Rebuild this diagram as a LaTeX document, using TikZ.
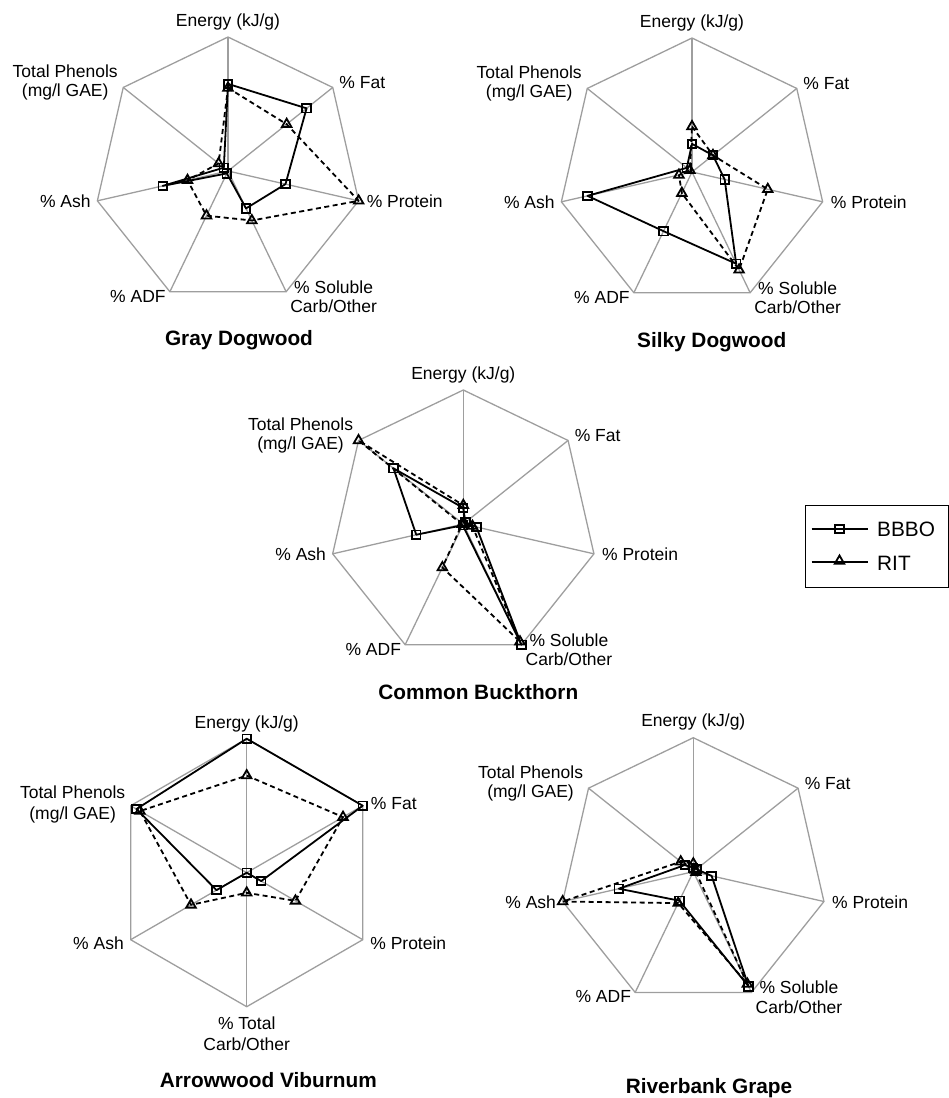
\documentclass[tikz,border=0pt]{standalone}
\usepackage{fontspec}
\setmainfont{Liberation Sans}
\usetikzlibrary{shapes.geometric}
\definecolor{gridc}{RGB}{158,158,158}
\def\RR{134}
\newcommand\heptgrid[3]{%
  \begin{scope}[shift={(#2,#3)}]
    \coordinate (#1C) at (0,0);
    \foreach \k in {0,...,6}{\coordinate (#1V\k) at ({90-\k*360/7}:\RR);}
  \end{scope}
  \draw[gridline] (#1V0)--(#1V1)--(#1V2)--(#1V3)--(#1V4)--(#1V5)--(#1V6)--cycle;
  \foreach \k in {0,...,6}{\draw[gridline] (#1C) -- (#1V\k);}
  \node[lab,anchor=base] (#1LE) at ([shift={(0,11)}]#1V0) {Energy (kJ/g)};
  \node[lab,anchor=base west] (#1LF) at ([shift={(6.5,-1)}]#1V1) {\% Fat};
  \node[lab,anchor=base west] (#1LP) at ([shift={(8,-7)}]#1V2) {\% Protein};
  \node[lab,anchor=base] (#1LSa) at ([shift={(47.5,-1.5)}]#1V3) {\% Soluble};
  \node[lab,anchor=base] (#1LSb) at ([shift={(47.5,-21)}]#1V3) {Carb/Other};
  \node[lab,anchor=base east] (#1LD) at ([shift={(-4,-10.5)}]#1V4) {\% ADF};
  \node[lab,anchor=base east] (#1LA) at ([shift={(-6.5,-6.5)}]#1V5) {\% Ash};
  \node[lab,anchor=base] (#1LTa) at ([shift={(-58,9.5)}]#1V6) {Total Phenols};
  \node[lab,anchor=base] (#1LTb) at ([shift={(-58,-9.5)}]#1V6) {(mg/l GAE)};
}
\newcommand\hexgrid[3]{%
  \begin{scope}[shift={(#2,#3)}]
    \coordinate (#1C) at (0,0);
    \foreach \k in {0,...,5}{\coordinate (#1V\k) at ({90-\k*60}:\RR);}
  \end{scope}
  \draw[gridline] (#1V0)--(#1V1)--(#1V2)--(#1V3)--(#1V4)--(#1V5)--cycle;
  \foreach \k in {0,...,5}{\draw[gridline] (#1C) -- (#1V\k);}
  \node[lab,anchor=base] (#1LE) at ([shift={(0,10)}]#1V0) {Energy (kJ/g)};
  \node[lab,anchor=base west] (#1LF) at ([shift={(8,-4)}]#1V1) {\% Fat};
  \node[lab,anchor=base west] (#1LP) at ([shift={(7.4,-10)}]#1V2) {\% Protein};
  \node[lab,anchor=base] (#1LCa) at ([shift={(0,-22.6)}]#1V3) {\% Total};
  \node[lab,anchor=base] (#1LCb) at ([shift={(0,-43.6)}]#1V3) {Carb/Other};
  \node[lab,anchor=base east] (#1LA) at ([shift={(-6.7,-10)}]#1V4) {\% Ash};
  \node[lab,anchor=base] (#1LTa) at ([shift={(-58,7)}]#1V5) {Total Phenols};
  \node[lab,anchor=base] (#1LTb) at ([shift={(-58,-14)}]#1V5) {(mg/l GAE)};
}
% #1 prefix, #2 cx, #3 cy, #4 axes, #5 marker style, #6 line style, #7 values
\newcommand\series[7]{%
  \begin{scope}[shift={(#2,#3)}]
    \foreach \v [count=\k from 0] in {#7}{\node[#5] (#1\k) at ({90-\k*360/#4}:{\v*\RR}) {};}
  \end{scope}
  \ifnum#4=7
    \draw[#6] (#10.center)--(#11.center)--(#12.center)--(#13.center)--(#14.center)--(#15.center)--(#16.center)--cycle;
  \else
    \draw[#6] (#10.center)--(#11.center)--(#12.center)--(#13.center)--(#14.center)--(#15.center)--cycle;
  \fi
}
\begin{document}
\begin{tikzpicture}[x=1pt,y=1pt,
  gridline/.style={draw=gridc, line width=1.3pt},
  lab/.style={font=\fontsize{17.5}{21}\selectfont, inner sep=0pt, text=black},
  ttl/.style={font=\fontsize{20.8}{24}\selectfont\bfseries, inner sep=0pt, anchor=base},
  legtext/.style={font=\fontsize{20.8}{24}\selectfont, inner sep=0pt, anchor=base west},
  sqm/.style={draw=black, rectangle, line width=1.8pt, minimum size=8.5pt, inner sep=0pt},
  trm/.style={draw=black, regular polygon, regular polygon sides=3, line width=1.8pt, minimum size=11pt, inner sep=0pt},
  bline/.style={draw=black, line width=1.8pt, line join=round},
  rline/.style={draw=black, line width=1.8pt, dash pattern=on 5pt off 3.5pt, line join=round},
  legline/.style={draw=black, line width=1.7pt}
]
\useasboundingbox (0,0) rectangle (949,-1098);

% Gray Dogwood
\heptgrid{gd}{228}{-171}
\series{gdB}{228}{-171}{7}{sqm}{bline}{0.65,0.75,0.44,0.31,0.02,0.50,0.04}
\series{gdR}{228}{-171}{7}{trm}{rline}{0.62,0.56,1.0,0.41,0.37,0.31,0.09}
\node[ttl] (gdT) at (239,-345.5) {Gray Dogwood};

% Silky Dogwood
\heptgrid{sd}{692}{-172}
\series{sdB}{692}{-172}{7}{sqm}{bline}{0.21,0.20,0.25,0.76,0.49,0.80,0.05}
\series{sdR}{692}{-172}{7}{trm}{rline}{0.34,0.20,0.58,0.81,0.175,0.10,0.02}
\node[ttl] (sdT) at (711.7,-347) {Silky Dogwood};

% Common Buckthorn
\heptgrid{cb}{463.3}{-524}
\series{cbB}{463.3}{-524}{7}{sqm}{bline}{0.12,0.02,0.10,1.0,0.01,0.36,0.667}
\series{cbR}{463.3}{-524}{7}{trm}{rline}{0.14,0.01,0.07,0.975,0.36,0.01,1.0}
\node[ttl] (cbT) at (478.3,-699.5) {Common Buckthorn};

% Arrowwood Viburnum
\hexgrid{av}{246.7}{-872.7}
\series{avB}{246.7}{-872.7}{6}{sqm}{bline}{1.0,1.0,0.125,0.0,0.26,0.95}
\series{avR}{246.7}{-872.7}{6}{trm}{rline}{0.725,0.83,0.42,0.15,0.48,0.92}
\node[ttl] (avT) at (268.3,-1087.7) {Arrowwood Viburnum};

% Riverbank Grape
\heptgrid{rg}{693.3}{-871.7}
\series{rgB}{693.3}{-871.7}{7}{sqm}{bline}{0.03,0.03,0.14,0.95,0.24,0.57,0.08}
\series{rgR}{693.3}{-871.7}{7}{trm}{rline}{0.06,0.02,0.02,0.93,0.26,1.0,0.12}
\node[ttl] (rgT) at (709,-1093.3) {Riverbank Grape};

% Legend
\node[draw=black, line width=1.4pt, anchor=north west, minimum width=143pt, minimum height=82pt, inner sep=0pt] (legbox) at (804.5,-504.5) {};
\coordinate (lgA1) at (811.5,-529);
\coordinate (lgA2) at (867.5,-529);
\draw[legline] (lgA1) -- (lgA2);
\node[sqm] (lgAm) at (839.5,-529) {};
\node[legtext] (lgAt) at (877,-536.5) {BBBO};
\coordinate (lgB1) at (811.5,-562);
\coordinate (lgB2) at (867.5,-562);
\draw[legline] (lgB1) -- (lgB2);
\node[trm] (lgBm) at (839.5,-561) {};
\node[legtext] (lgBt) at (877,-570.5) {RIT};
\end{tikzpicture}
\end{document}
